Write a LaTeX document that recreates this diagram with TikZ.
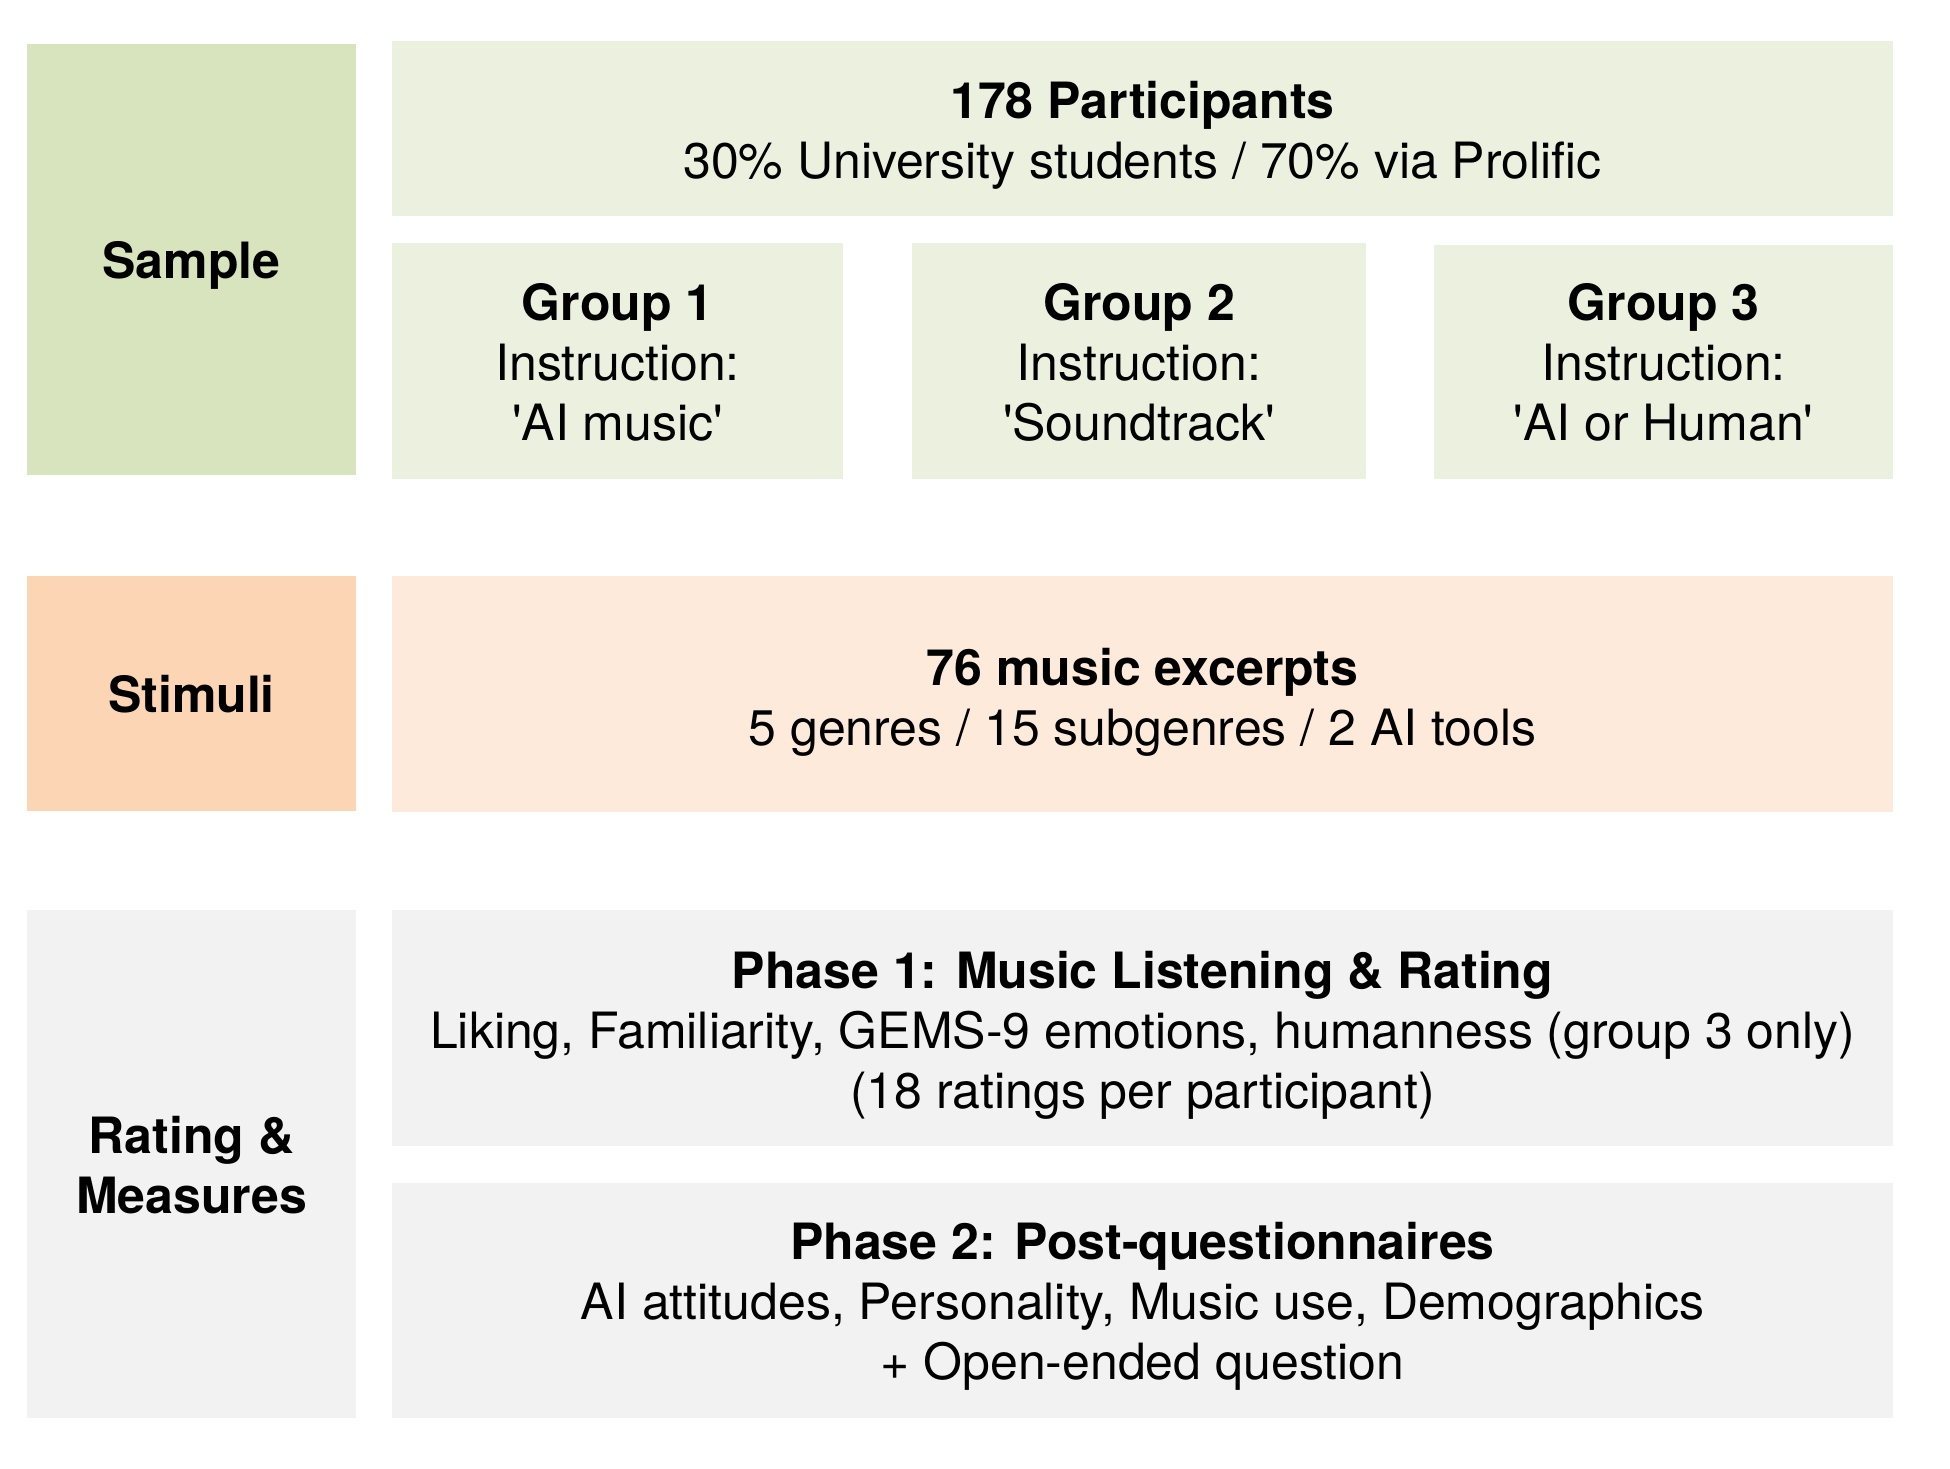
\documentclass[tikz,border=0pt]{standalone}
\usepackage{fontspec}
\setmainfont{TeX Gyre Heros}
\definecolor{greendark}{HTML}{D7E4BD}
\definecolor{greenlight}{HTML}{EBF1DE}
\definecolor{orangedark}{HTML}{FCD5B5}
\definecolor{orangelight}{HTML}{FDEADA}
\definecolor{greybox}{HTML}{F2F2F2}
\tikzset{
  cell/.style={inner sep=0pt, outer sep=0pt, draw=none},
  txt/.style={inner sep=0pt, outer sep=0pt, align=center, text=black,
    font=\fontsize{50}{60}\selectfont},
}
\begin{document}
\begin{tikzpicture}[x=1pt,y=-1pt]
\path[use as bounding box, fill=white] (0,0) rectangle (1950,1468);
% left labels
\node[cell, fill=greendark, minimum width=329pt, minimum height=431pt] (sample) at (191.5,259.5) {};
\node[txt] (sampleT) at ([yshift=-6pt]sample.center) {\textbf{Sample}};
\node[cell, fill=orangedark, minimum width=329pt, minimum height=235pt] (stim) at (191.5,693.5) {};
\node[txt] (stimT) at ([yshift=-1pt]stim.center) {\textbf{Stimuli}};
\node[cell, fill=greybox, minimum width=329pt, minimum height=508pt] (rate) at (191.5,1164) {};
\node[txt] (rateT) at ([yshift=-1pt]rate.center) {\textbf{Rating \&}\\\textbf{Measures}};
% sample content
\node[cell, fill=greenlight, minimum width=1501pt, minimum height=175pt] (part) at (1142.5,128.5) {};
\node[txt] (partT) at ([yshift=-7pt]part.center) {\textbf{178 Participants}\\30\% University students / 70\% via Prolific};
\node[cell, fill=greenlight, minimum width=451pt, minimum height=236pt] (g1) at (617.5,361) {};
\node[txt] (g1T) at ([yshift=-1pt]g1.center) {\textbf{Group 1}\\Instruction:\\\textquotesingle AI music\textquotesingle};
\node[cell, fill=greenlight, minimum width=454pt, minimum height=236pt] (g2) at (1139,361) {};
\node[txt] (g2T) at ([yshift=-1pt]g2.center) {\textbf{Group 2}\\Instruction:\\\textquotesingle Soundtrack\textquotesingle};
\node[cell, fill=greenlight, minimum width=459pt, minimum height=234pt] (g3) at (1663.5,362) {};
\node[txt] (g3T) at ([yshift=0pt]g3.center) {\textbf{Group 3}\\Instruction:\\\textquotesingle AI or Human\textquotesingle};
% stimuli content
\node[cell, fill=orangelight, minimum width=1501pt, minimum height=236pt] (music) at (1142.5,694) {};
\node[txt] (musicT) at ([yshift=-8pt]music.center) {\textbf{76 music excerpts}\\5 genres / 15 subgenres / 2 AI tools};
% rating content
\node[cell, fill=greybox, minimum width=1501pt, minimum height=236pt] (ph1) at (1142.5,1028) {};
\node[txt] (ph1T) at ([yshift=-7pt]ph1.center) {\textbf{Phase 1: Music Listening \& Rating}\\Liking, Familiarity, GEMS-9 emotions, humanness (group 3 only)\\(18 ratings per participant)};
\node[cell, fill=greybox, minimum width=1501pt, minimum height=235pt] (ph2) at (1142.5,1300.5) {};
\node[txt] (ph2T) at ([yshift=-6pt]ph2.center) {\textbf{Phase 2: Post-questionnaires}\\AI attitudes, Personality, Music use, Demographics\\+ Open-ended question};
\end{tikzpicture}
\end{document}
